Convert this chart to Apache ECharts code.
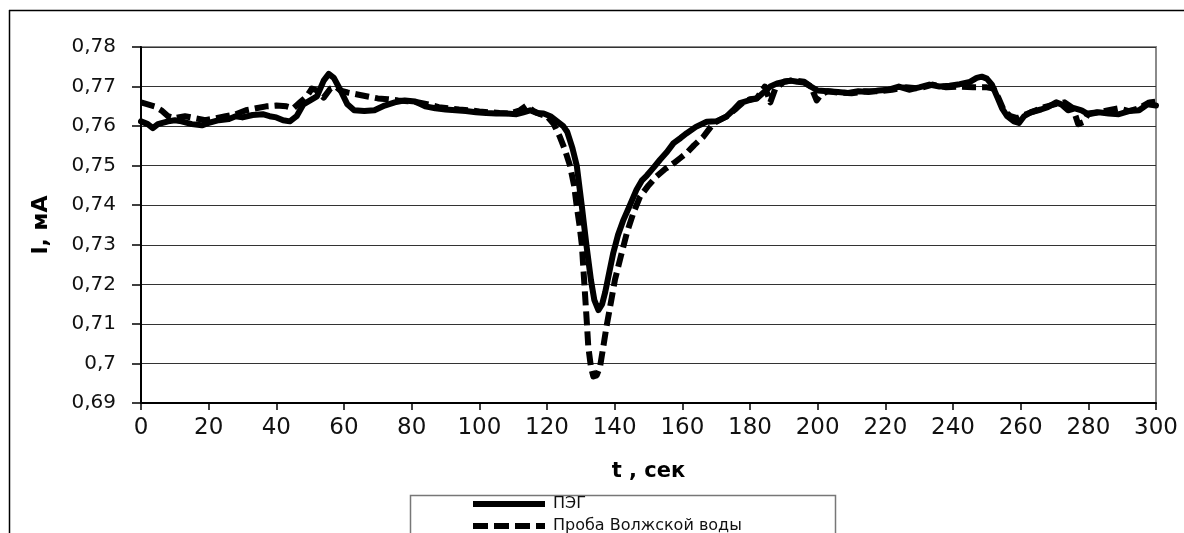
<!DOCTYPE html>
<html>
<head>
<meta charset="utf-8">
<script src="https://cdn.jsdelivr.net/npm/echarts@6/dist/echarts.min.js"></script>
<style>
html,body{margin:0;padding:0;background:#fff;}
#chart{width:1184px;height:533px;}
</style>
</head>
<body>
<div id="chart"></div>
<script>
// ---- Data ----
var seriesNames = ['ПЭГ', 'Проба Волжской воды'];
var xTitle = 't , сек';
var yTitle = 'I, мА';

var tPEG = [0,2,3.5,5,8,10,12,15,18,20,23,26,28,30,33,36,38,40,42,44,46,48,50,52,54,55.5,57,59,61,63,66,69,72,75,78,81,84,87,90,93,96,99,102,105,108,111,113,115,117,119,121,123,124.8,126,127.5,128.8,130.3,131.7,133,134,135.2,136.3,137.2,138.4,139.6,141,142.6,144.5,146.5,148,149.5,151.5,153.4,155.5,157.4,159.5,161.3,164,167.2,170,173,175,177,180,182,184,186,188,190,192,194,196,198,200,203,206,209,212,215,218,221,224,227,230,233,236,239,242,245,247,248.5,250,251.5,253,254.5,256,258,259.5,261,263,266,268,270.5,272,274,276,278,280,283,286,289,292,295,297.5,300];
var vPEG = [0.7612,0.7605,0.7595,0.7605,0.7612,0.7615,0.7612,0.7605,0.7602,0.7608,0.7615,0.7618,0.7625,0.7622,0.7628,0.7630,0.7625,0.7622,0.7615,0.7612,0.7625,0.7655,0.7665,0.7675,0.7715,0.7732,0.7722,0.7690,0.7655,0.7640,0.7638,0.7640,0.7652,0.7660,0.7665,0.7662,0.7650,0.7645,0.7642,0.7640,0.7638,0.7635,0.7633,0.7632,0.7632,0.7630,0.7635,0.7640,0.7633,0.7632,0.7625,0.7612,0.7600,0.7585,0.7545,0.7500,0.7397,0.7296,0.7210,0.7160,0.7135,0.7150,0.7180,0.7230,0.7280,0.7325,0.7363,0.7400,0.7440,0.7462,0.7475,0.7495,0.7515,0.7535,0.7557,0.7570,0.7582,0.7598,0.7611,0.7612,0.7624,0.7640,0.7658,0.7666,0.7670,0.7685,0.7700,0.7708,0.7712,0.7715,0.7712,0.7710,0.7700,0.7690,0.7688,0.7686,0.7684,0.7688,0.7686,0.7690,0.7692,0.7700,0.7692,0.7698,0.7705,0.7700,0.7702,0.7706,0.7712,0.7722,0.7725,0.7720,0.7705,0.7675,0.7645,0.7625,0.7612,0.7608,0.7625,0.7635,0.7642,0.7648,0.7660,0.7655,0.7640,0.7645,0.7640,0.7630,0.7635,0.7632,0.7630,0.7638,0.7640,0.7655,0.7652];

var tVolga = [0,2,4,6,8,10,13,16,19,22,25,28,31,34,37,40,43,45,47,49,50.5,52,54,56,57.5,59,61,64,67,70,73,76,79,82,85,88,91,94,97,100,103,106,109,112,114,116,118,120,122,123.8,125.3,126.8,128,128.8,129.6,130.3,131.2,131.8,132.2,133,133.7,134.7,135.7,136.6,137.6,138.9,140.1,141.8,143.6,145.5,147.5,150,152.4,155,157.4,159.5,161.3,163.5,166.2,169.2,171,173,176,178,180,182,184.4,186,187.5,190,193,196,198,199.7,201,203,206,210,214,218,222,226,230,234,238,242,246,250,252,253.5,255,257,259,261,264,267,270,273,275.5,277,278.5,280,283,286,289,292,295,298,300];
var vVolga = [0.7660,0.7655,0.7650,0.7640,0.7625,0.7620,0.7625,0.7620,0.7615,0.7620,0.7625,0.7630,0.7640,0.7645,0.7650,0.7652,0.7650,0.7645,0.7660,0.7675,0.7695,0.7690,0.7672,0.7695,0.7700,0.7690,0.7685,0.7680,0.7675,0.7670,0.7668,0.7665,0.7663,0.7660,0.7655,0.7648,0.7645,0.7642,0.7640,0.7637,0.7635,0.7633,0.7632,0.7640,0.7652,0.7638,0.7630,0.7625,0.7605,0.7573,0.7540,0.7500,0.7450,0.7397,0.7350,0.7300,0.7180,0.7100,0.7043,0.6990,0.6967,0.6970,0.6993,0.7040,0.7094,0.7155,0.7212,0.7270,0.7330,0.7380,0.7422,0.7450,0.7473,0.7492,0.7506,0.7520,0.7532,0.7552,0.7573,0.7607,0.7615,0.7624,0.7645,0.7660,0.7668,0.7670,0.7700,0.7660,0.7695,0.7712,0.7716,0.7712,0.7700,0.7665,0.7680,0.7688,0.7685,0.7683,0.7688,0.7688,0.7692,0.7698,0.7695,0.7705,0.7698,0.7700,0.7698,0.7698,0.7695,0.7670,0.7640,0.7625,0.7620,0.7628,0.7638,0.7648,0.7655,0.7660,0.7645,0.7605,0.7610,0.7632,0.7635,0.7640,0.7645,0.7638,0.7645,0.7660,0.7662];

function pairs(ts, vs){ return ts.map(function(t,i){ return [t, vs[i]]; }); }
function fmtY(v){ return String(Math.round(v*100)/100).replace('.', ','); }

var solidIcon = 'path://M0,0h72v6h-72z';
var dashIcon = 'path://M0,0h15v6h-15z M21,0h15v6h-15z M42,0h15v6h-15z M63,0h9v6h-9z';

var chart = echarts.init(document.getElementById('chart'), null, {renderer:'canvas'});
var option = {
  animation:false,
  backgroundColor:'#fff',
  grid:{left:141, top:47, right:28, bottom:130, show:true, borderColor:'#8a8a8a', borderWidth:2, backgroundColor:'transparent'},
  xAxis:{
    type:'value', min:0, max:300, interval:20,
    name:xTitle, nameLocation:'middle', nameGap:58,
    nameTextStyle:{fontFamily:'DejaVu Sans', fontWeight:'bold', fontSize:21, color:'#000'},
    axisLine:{show:true, onZero:false, lineStyle:{color:'#000', width:2}},
    axisTick:{show:true, inside:false, length:7, lineStyle:{color:'#000', width:1.5}},
    axisLabel:{fontFamily:'DejaVu Sans', fontSize:23, color:'#111', margin:14},
    splitLine:{show:false}
  },
  yAxis:{
    type:'value', min:0.69, max:0.78, interval:0.01,
    name:yTitle, nameLocation:'middle', nameGap:89,
    nameTextStyle:{fontFamily:'DejaVu Sans', fontWeight:'bold', fontSize:22, color:'#000'},
    axisLine:{show:true, onZero:false, lineStyle:{color:'#000', width:2}},
    axisTick:{show:true, inside:false, length:9, lineStyle:{color:'#000', width:1.5}},
    axisLabel:{fontFamily:'DejaVu Sans', fontSize:20, color:'#111', margin:25, formatter:fmtY},
    splitLine:{show:true, lineStyle:{color:'#333', width:1.2}}
  },
  legend:{
    orient:'vertical', left:473, top:496, width:400, height:120, padding:0, itemGap:6,
    itemWidth:72, itemHeight:6,
    itemStyle:{color:'#000', borderWidth:0},
    textStyle:{fontFamily:'DejaVu Sans', fontSize:16, lineHeight:14, color:'#111', padding:[0,0,0,3]},
    data:[{name:seriesNames[0], icon:solidIcon}, {name:seriesNames[1], icon:dashIcon}]
  },
  graphic:[
    {type:'line', shape:{x1:9, y1:10.5, x2:1184, y2:10.5}, style:{stroke:'#000', lineWidth:1.5}, silent:true},
    {type:'line', shape:{x1:9.5, y1:10, x2:9.5, y2:533}, style:{stroke:'#000', lineWidth:1.5}, silent:true},
    {type:'rect', shape:{x:410.5, y:495.5, width:425, height:50}, style:{stroke:'#777', fill:'#fff', lineWidth:1.5}, silent:true, z:-1}
  ],
  series:[
    {name:seriesNames[0], type:'line', data:pairs(tPEG, vPEG), showSymbol:false, symbol:'none',
     lineStyle:{color:'#000', width:6, cap:'round', join:'round'}, itemStyle:{color:'#000'}, z:3},
    {name:seriesNames[1], type:'line', data:pairs(tVolga, vVolga), showSymbol:false, symbol:'none',
     lineStyle:{color:'#000', width:6, type:[14,6], cap:'butt', join:'round'}, itemStyle:{color:'#000'}, z:2}
  ]
};
chart.setOption(option);
</script>
</body>
</html>
